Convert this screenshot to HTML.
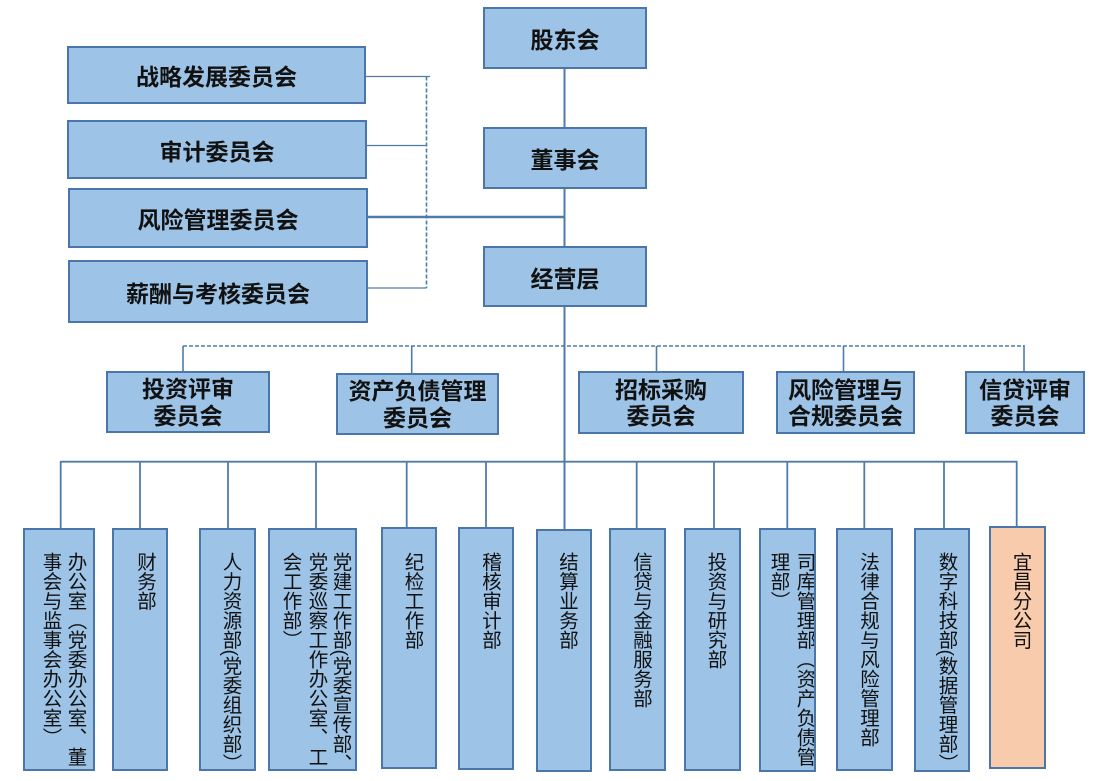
<!DOCTYPE html>
<html>
<head>
<meta charset="utf-8">
<style>
  html, body { margin:0; padding:0; background:#ffffff; }
  body { width:1098px; height:781px; position:relative; overflow:hidden;
         font-family:"Liberation Sans","Noto Sans CJK SC","WenQuanYi Zen Hei",sans-serif; }
  svg.lines { position:absolute; left:0; top:0; }
  .box { position:absolute; box-sizing:border-box; background:#9DC3E6; border:2px solid #4A76AA; overflow:hidden; }
  .peach { background:#F8CBAD; }
  .h { display:flex; align-items:center; justify-content:center; text-align:center;
       font-weight:700; font-size:23px; line-height:26.5px; color:#111; padding-top:5px; }
  .h2 { padding-top:1px; }
  .col { position:absolute; top:22px; width:20px; writing-mode:vertical-rl; white-space:nowrap;
         font-size:19.5px; line-height:20px; color:#111; }
</style>
</head>
<body>
<svg class="lines" width="1098" height="781" viewBox="0 0 1098 781">
  <g stroke="#4F7BAC" fill="none">
    <!-- main vertical -->
    <line x1="564.5" y1="68" x2="564.5" y2="530" stroke-width="2"/>
    <!-- left committee connectors -->
    <line x1="365" y1="76.5" x2="430" y2="76.5" stroke-width="1.3"/>
    <line x1="364" y1="145.5" x2="427" y2="145.5" stroke-width="1.3"/>
    <line x1="366" y1="217" x2="565" y2="217" stroke-width="2.5"/>
    <line x1="367" y1="288" x2="426.5" y2="288" stroke-width="1.3"/>
    <line x1="426.5" y1="76.5" x2="426.5" y2="288" stroke-width="1.6" stroke-dasharray="4 2"/>
    <!-- middle committees dashed -->
    <line x1="183" y1="346" x2="1024" y2="346" stroke-width="1.6" stroke-dasharray="4 2"/>
    <line x1="183" y1="346" x2="183" y2="372" stroke-width="1.6"/>
    <line x1="411.7" y1="346" x2="411.7" y2="374" stroke-width="1.6"/>
    <line x1="656.5" y1="346" x2="656.5" y2="373" stroke-width="1.6"/>
    <line x1="843.5" y1="346" x2="843.5" y2="372" stroke-width="1.6"/>
    <line x1="1024" y1="345" x2="1024" y2="372" stroke-width="1.6"/>
    <!-- department bus -->
    <line x1="60.7" y1="461.7" x2="1017" y2="461.7" stroke-width="1.8"/>
    <line x1="60.7" y1="461" x2="60.7" y2="529" stroke-width="1.8"/>
    <line x1="140" y1="461" x2="140" y2="529" stroke-width="1.8"/>
    <line x1="228" y1="461" x2="228" y2="529" stroke-width="1.8"/>
    <line x1="316" y1="461" x2="316" y2="529" stroke-width="1.8"/>
    <line x1="406.7" y1="461" x2="406.7" y2="528" stroke-width="1.8"/>
    <line x1="486" y1="461" x2="486" y2="528" stroke-width="1.8"/>
    <line x1="636.7" y1="461" x2="636.7" y2="529" stroke-width="1.8"/>
    <line x1="714" y1="461" x2="714" y2="529" stroke-width="1.8"/>
    <line x1="787.3" y1="461" x2="787.3" y2="529" stroke-width="1.8"/>
    <line x1="864.3" y1="461" x2="864.3" y2="529" stroke-width="1.8"/>
    <line x1="944" y1="461" x2="944" y2="529" stroke-width="1.8"/>
    <line x1="1016.7" y1="461" x2="1016.7" y2="527" stroke-width="1.8"/>
  </g>
</svg>

<!-- top spine -->
<div class="box h" style="left:483px;top:7px;width:164px;height:62px;">股东会</div>
<div class="box h" style="left:483px;top:127px;width:164px;height:62px;">董事会</div>
<div class="box h" style="left:483px;top:246px;width:164px;height:61px;">经营层</div>

<!-- board committees -->
<div class="box h" style="left:67px;top:46px;width:299px;height:58px;">战略发展委员会</div>
<div class="box h" style="left:67px;top:120px;width:300px;height:59px;">审计委员会</div>
<div class="box h" style="left:68px;top:188px;width:300px;height:60px;">风险管理委员会</div>
<div class="box h" style="left:68px;top:260px;width:300px;height:63px;">薪酬与考核委员会</div>

<!-- management committees -->
<div class="box h h2" style="left:106px;top:371px;width:164px;height:62px;">投资评审<br>委员会</div>
<div class="box h h2" style="left:336px;top:373px;width:163px;height:62px;">资产负债管理<br>委员会</div>
<div class="box h h2" style="left:578px;top:371px;width:166px;height:63px;">招标采购<br>委员会</div>
<div class="box h h2" style="left:776px;top:371px;width:139px;height:63px;">风险管理与<br>合规委员会</div>
<div class="box h h2" style="left:965px;top:371px;width:120px;height:63px;">信贷评审<br>委员会</div>

<!-- departments -->
<div class="box" style="left:23px;top:528px;width:72px;height:243px;">
  <div class="col" style="left:40px;">办公室（党委办公室、董</div>
  <div class="col" style="left:15px;">事会与监事会办公室）</div>
</div>
<div class="box" style="left:112px;top:528px;width:56px;height:243px;">
  <div class="col" style="left:20.5px;">财务部</div>
</div>
<div class="box" style="left:199px;top:528px;width:57px;height:243px;">
  <div class="col" style="left:19px;">人力资源部(党委组织部）</div>
</div>
<div class="box" style="left:268px;top:528px;width:89px;height:243px;">
  <div class="col" style="left:60px;">党建工作部(党委宣传部、</div>
  <div class="col" style="left:36px;">党委巡察工作办公室、工</div>
  <div class="col" style="left:10px;">会工作部）</div>
</div>
<div class="box" style="left:381px;top:527px;width:56px;height:242px;">
  <div class="col" style="left:19px;top:23px;">纪检工作部</div>
</div>
<div class="box" style="left:458px;top:527px;width:56px;height:243px;">
  <div class="col" style="left:19.5px;top:23px;">稽核审计部</div>
</div>
<div class="box" style="left:536px;top:529px;width:56px;height:243px;">
  <div class="col" style="left:18.5px;top:21px;">结算业务部</div>
</div>
<div class="box" style="left:609px;top:528px;width:57px;height:243px;">
  <div class="col" style="left:19.5px;">信贷与金融服务部</div>
</div>
<div class="box" style="left:684px;top:528px;width:57px;height:243px;">
  <div class="col" style="left:19px;">投资与研究部</div>
</div>
<div class="box" style="left:759px;top:528px;width:57px;height:244px;">
  <div class="col" style="left:33px;">司库管理部（资产负债管</div>
  <div class="col" style="left:7px;">理部）</div>
</div>
<div class="box" style="left:836px;top:528px;width:57px;height:243px;">
  <div class="col" style="left:19.5px;">法律合规与风险管理部</div>
</div>
<div class="box" style="left:914px;top:528px;width:56px;height:244px;">
  <div class="col" style="left:20px;">数字科技部(数据管理部）</div>
</div>
<div class="box peach" style="left:989px;top:526px;width:57px;height:243px;">
  <div class="col" style="left:19px;top:24px;">宜昌分公司</div>
</div>
</body>
</html>
